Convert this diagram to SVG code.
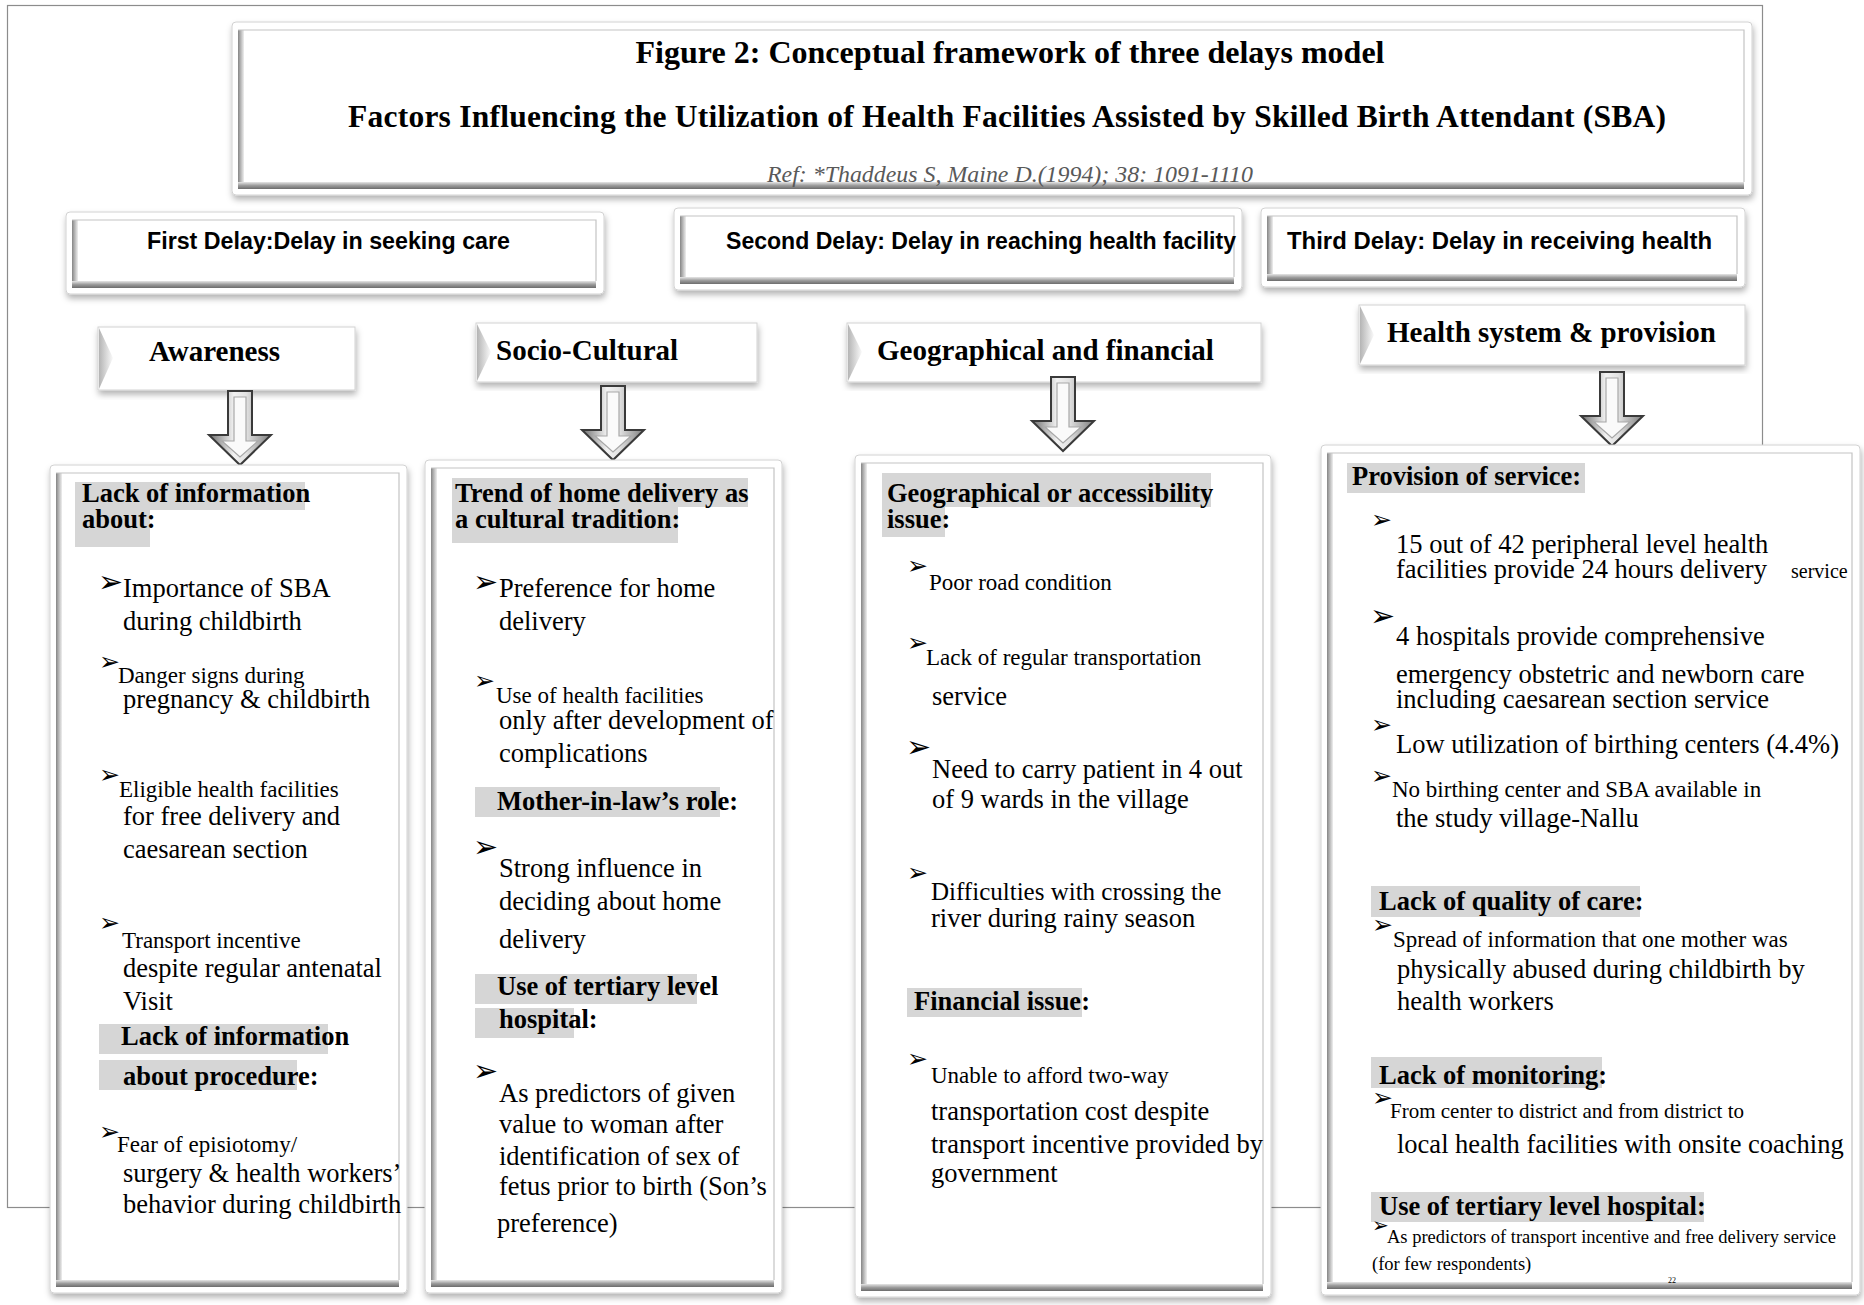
<svg xmlns="http://www.w3.org/2000/svg" xmlns:xlink="http://www.w3.org/1999/xlink" width="1864" height="1305" viewBox="0 0 1864 1305">
<defs>
<style>
.t{font-family:"Liberation Serif","Times New Roman",serif;font-size:26.5px;fill:#000}
.h{font-weight:bold}
.s{font-size:23px}
.bul{font-family:"DejaVu Sans",sans-serif;fill:#000}
.bb1{font-size:30px}
.bs1{font-size:25px}
.hl{fill:#d6d6d6}
.ob{fill:#fff;stroke:#d2d2d2;stroke-width:1;filter:url(#sh)}
.lb{fill:url(#gl)}
.lw{fill:url(#gw)}
.bb{fill:url(#gb)}
.il{fill:none;stroke:#c4c4c4;stroke-width:1.2}
.dl{font-family:"Liberation Sans",Arial,sans-serif;font-weight:bold;font-size:23px;fill:#000}
.cat{font-family:"Liberation Serif","Times New Roman",serif;font-weight:bold;font-size:29px;fill:#000}
</style>
<linearGradient id="gl" x1="0" y1="0" x2="1" y2="0"><stop offset="0" stop-color="#858585"/><stop offset="1" stop-color="#efefef"/></linearGradient>
<linearGradient id="gw" x1="0" y1="0" x2="1" y2="0"><stop offset="0" stop-color="#b4b4b4"/><stop offset="1" stop-color="#fafafa"/></linearGradient>
<linearGradient id="gb" x1="0" y1="0" x2="0" y2="1"><stop offset="0" stop-color="#e6e6e6"/><stop offset="0.5" stop-color="#9c9c9c"/><stop offset="1" stop-color="#6c6c6c"/></linearGradient>
<linearGradient id="ag" x1="0" y1="0" x2="1" y2="0"><stop offset="0" stop-color="#6e6e6e"/><stop offset="0.4" stop-color="#f2f2f2"/><stop offset="0.6" stop-color="#e2e2e2"/><stop offset="1" stop-color="#7e7e7e"/></linearGradient>
<filter id="sh" x="-5%" y="-5%" width="110%" height="120%"><feDropShadow dx="1" dy="4" stdDeviation="3" flood-color="#000" flood-opacity="0.3"/></filter>
<g id="darrow">
<path d="M-12,0 H12 V44 H31 L0,74 L-31,44 H-12 Z" fill="url(#ag)" stroke="#3a3a3a" stroke-width="2" stroke-linejoin="miter"/>
<path d="M-6,6 H6 V50 H18 L0,66 L-18,50 H-6 Z" fill="#fafafa" stroke="#a8a8a8" stroke-width="1.2"/>
</g>
</defs>

<rect x="7.5" y="5.5" width="1755" height="1202" fill="#fff" stroke="#8c8c8c" stroke-width="1.2"/>

<g id="title">
<rect class="ob" x="232" y="22" width="1520" height="173" rx="4"/>
<rect class="lb" x="238" y="30" width="6" height="153"/>
<rect class="bb" x="238" y="182" width="1506" height="7"/>
<path class="il" d="M238,30 H1744 V182"/>
<text class="t h" x="1010" y="63" style="font-size:32px" text-anchor="middle" textLength="749">Figure 2: Conceptual framework of three delays model</text>
<text class="t h" x="1007" y="127" style="font-size:31.5px" text-anchor="middle" textLength="1318">Factors Influencing the Utilization of Health Facilities Assisted by Skilled Birth Attendant (SBA)</text>
<text class="t" x="1010" y="182" style="font-size:24px;font-style:italic;fill:#595959" text-anchor="middle" textLength="486" lengthAdjust="spacingAndGlyphs">Ref: *Thaddeus S, Maine D.(1994); 38: 1091-1110</text>
</g>

<g id="delay1">
<rect class="ob" x="66" y="212" width="538" height="82" rx="4"/>
<rect class="lb" x="72" y="220" width="6" height="62"/>
<rect class="bb" x="72" y="281" width="524" height="7"/>
<path class="il" d="M72,220 H596 V281"/>
<text class="dl" x="147" y="249" textLength="363" lengthAdjust="spacingAndGlyphs">First Delay:Delay in seeking care</text>
</g>
<g id="delay2">
<rect class="ob" x="674" y="208" width="568" height="82" rx="4"/>
<rect class="lb" x="680" y="216" width="6" height="62"/>
<rect class="bb" x="680" y="277" width="554" height="7"/>
<path class="il" d="M680,216 H1234 V277"/>
<text class="dl" x="726" y="249" textLength="510" lengthAdjust="spacingAndGlyphs">Second Delay: Delay in reaching health facility</text>
</g>
<g id="delay3">
<rect class="ob" x="1261" y="208" width="484" height="79" rx="4"/>
<rect class="lb" x="1267" y="216" width="6" height="59"/>
<rect class="bb" x="1267" y="274" width="470" height="7"/>
<path class="il" d="M1267,216 H1737 V274"/>
<text class="dl" x="1287" y="249" textLength="425" lengthAdjust="spacingAndGlyphs">Third Delay: Delay in receiving health</text>
</g>

<g id="cat-awareness">
<rect class="ob" x="98" y="327" width="257" height="63"/>
<polygon class="lw" points="99,328 113,358 99,389"/>
<text class="cat" x="149" y="361">Awareness</text>
</g>
<g id="cat-socio">
<rect class="ob" x="476" y="323" width="281" height="59"/>
<polygon class="lw" points="477,324 491,352 477,381"/>
<text class="cat" x="496" y="360">Socio-Cultural</text>
</g>
<g id="cat-geo">
<rect class="ob" x="847" y="323" width="414" height="59"/>
<polygon class="lw" points="848,324 862,352 848,381"/>
<text class="cat" x="877" y="360">Geographical and financial</text>
</g>
<g id="cat-health">
<rect class="ob" x="1359" y="305" width="386" height="60"/>
<polygon class="lw" points="1360,306 1374,335 1360,364"/>
<text class="cat" x="1387" y="342">Health system &amp; provision</text>
</g>

<g id="connectors">
<use xlink:href="#darrow" href="#darrow" transform="translate(240,391)"/>
<use xlink:href="#darrow" href="#darrow" transform="translate(613,386)"/>
<use xlink:href="#darrow" href="#darrow" transform="translate(1063,377)"/>
<use xlink:href="#darrow" href="#darrow" transform="translate(1612,372)"/>
</g>

<g id="box-awareness">
<rect class="ob" x="50" y="465" width="357" height="828" rx="4"/>
<rect class="lb" x="56" y="473" width="6" height="808"/>
<rect class="bb" x="56" y="1280" width="343" height="7"/>
<path class="il" d="M56,473 H399 V1280"/>
<rect class="hl" x="75" y="482" width="230" height="28"/>
<rect class="hl" x="75" y="510" width="75" height="37"/>
<text class="t h" x="82" y="502">Lack of information</text>
<text class="t h" x="82" y="528">about:</text>
<text class="bul bb1" x="98" y="592">➢</text>
<text class="t" x="123" y="597">Importance of SBA</text>
<text class="t" x="123" y="630">during childbirth</text>
<text class="bul bs1" x="99" y="670">➢</text>
<text class="t s" x="118" y="683">Danger signs during</text>
<text class="t" x="123" y="708">pregnancy &amp; childbirth</text>
<text class="bul bs1" x="99" y="783">➢</text>
<text class="t s" x="119" y="797">Eligible health facilities</text>
<text class="t" x="123" y="825">for free delivery and</text>
<text class="t" x="123" y="858">caesarean section</text>
<text class="bul bs1" x="99" y="931">➢</text>
<text class="t s" x="122" y="948">Transport incentive</text>
<text class="t" x="123" y="977">despite regular antenatal</text>
<text class="t" x="123" y="1010">Visit</text>
<rect class="hl" x="99" y="1024" width="229" height="30"/>
<text class="t h" x="121" y="1045">Lack of information</text>
<rect class="hl" x="99" y="1060" width="198" height="30"/>
<text class="t h" x="123" y="1085">about procedure:</text>
<text class="bul bs1" x="99" y="1140">➢</text>
<text class="t s" x="117" y="1152">Fear of episiotomy/</text>
<text class="t" x="123" y="1182">surgery &amp; health workers’</text>
<text class="t" x="123" y="1213">behavior during childbirth</text>
</g>

<g id="box-socio">
<rect class="ob" x="425" y="460" width="357" height="833" rx="4"/>
<rect class="lb" x="431" y="468" width="6" height="813"/>
<rect class="bb" x="431" y="1280" width="343" height="7"/>
<path class="il" d="M431,468 H774 V1280"/>
<rect class="hl" x="452" y="478" width="296" height="29"/>
<rect class="hl" x="452" y="507" width="226" height="36"/>
<text class="t h" x="455" y="502">Trend of home delivery as</text>
<text class="t h" x="455" y="528">a cultural tradition:</text>
<text class="bul bb1" x="473" y="592">➢</text>
<text class="t" x="499" y="597">Preference for home</text>
<text class="t" x="499" y="630">delivery</text>
<text class="bul bs1" x="474" y="689">➢</text>
<text class="t s" x="496" y="703">Use of health facilities</text>
<text class="t" x="499" y="729">only after development of</text>
<text class="t" x="499" y="762">complications</text>
<rect class="hl" x="475" y="787" width="245" height="30"/>
<text class="t h" x="497" y="810">Mother-in-law’s role:</text>
<text class="bul bb1" x="473" y="857">➢</text>
<text class="t" x="499" y="877">Strong influence in</text>
<text class="t" x="499" y="910">deciding about home</text>
<text class="t" x="499" y="948">delivery</text>
<rect class="hl" x="475" y="974" width="222" height="30"/>
<text class="t h" x="497" y="995">Use of tertiary level</text>
<rect class="hl" x="475" y="1008" width="99" height="30"/>
<text class="t h" x="499" y="1028">hospital:</text>
<text class="bul bb1" x="473" y="1081">➢</text>
<text class="t" x="499" y="1102">As predictors of given</text>
<text class="t" x="499" y="1133">value to woman after</text>
<text class="t" x="499" y="1165">identification of sex of</text>
<text class="t" x="499" y="1195">fetus prior to birth (Son’s</text>
<text class="t" x="497" y="1232">preference)</text>
</g>

<g id="box-geo">
<rect class="ob" x="855" y="455" width="416" height="842" rx="4"/>
<rect class="lb" x="861" y="463" width="6" height="822"/>
<rect class="bb" x="861" y="1284" width="402" height="7"/>
<path class="il" d="M861,463 H1263 V1284"/>
<rect class="hl" x="882" y="473" width="329" height="34"/>
<rect class="hl" x="882" y="507" width="63" height="30"/>
<text class="t h" x="887" y="502">Geographical or accessibility</text>
<text class="t h" x="887" y="528">issue:</text>
<text class="bul bs1" x="907" y="574">➢</text>
<text class="t s" x="929" y="590">Poor road condition</text>
<text class="bul bs1" x="907" y="651">➢</text>
<text class="t s" x="926" y="665">Lack of regular transportation</text>
<text class="t" x="932" y="705">service</text>
<text class="bul bb1" x="906" y="757">➢</text>
<text class="t" x="932" y="778">Need to carry patient in 4 out</text>
<text class="t" x="932" y="808">of 9 wards in the village</text>
<text class="bul bs1" x="907" y="881">➢</text>
<text class="t" x="931" y="900" style="font-size:25px">Difficulties with crossing the</text>
<text class="t" x="931" y="927">river during rainy season</text>
<rect class="hl" x="907" y="988" width="175" height="29"/>
<text class="t h" x="914" y="1010">Financial issue:</text>
<text class="bul bs1" x="907" y="1067">➢</text>
<text class="t s" x="931" y="1083">Unable to afford two-way</text>
<text class="t" x="931" y="1120">transportation cost despite</text>
<text class="t" x="931" y="1153">transport incentive provided by</text>
<text class="t" x="931" y="1182">government</text>
</g>

<g id="box-health">
<rect class="ob" x="1321" y="445" width="539" height="850" rx="4"/>
<rect class="lb" x="1327" y="453" width="6" height="830"/>
<rect class="bb" x="1327" y="1282" width="525" height="7"/>
<path class="il" d="M1327,453 H1852 V1282"/>
<rect class="hl" x="1347" y="463" width="238" height="30"/>
<text class="t h" x="1352" y="485">Provision of service:</text>
<text class="bul bs1" x="1371" y="528">➢</text>
<text class="t" x="1396" y="553">15 out of 42 peripheral level health</text>
<text class="t" x="1396" y="578">facilities provide 24 hours delivery</text>
<text class="t" x="1791" y="578" style="font-size:20px">service</text>
<text class="bul bb1" x="1370" y="626">➢</text>
<text class="t" x="1396" y="645">4 hospitals provide comprehensive</text>
<text class="t" x="1396" y="683">emergency obstetric and newborn care</text>
<text class="t" x="1396" y="708">including caesarean section service</text>
<text class="bul bs1" x="1371" y="733">➢</text>
<text class="t" x="1396" y="753">Low utilization of birthing centers (4.4%)</text>
<text class="bul bs1" x="1371" y="784">➢</text>
<text class="t s" x="1392" y="797">No birthing center and SBA available in</text>
<text class="t" x="1396" y="827">the study village-Nallu</text>
<rect class="hl" x="1371" y="886" width="269" height="31"/>
<text class="t h" x="1379" y="910">Lack of quality of care:</text>
<text class="bul bs1" x="1372" y="933">➢</text>
<text class="t s" x="1393" y="947">Spread of information that one mother was</text>
<text class="t" x="1397" y="978">physically abused during childbirth by</text>
<text class="t" x="1397" y="1010">health workers</text>
<rect class="hl" x="1371" y="1057" width="231" height="31"/>
<text class="t h" x="1379" y="1084">Lack of monitoring:</text>
<text class="bul bs1" x="1372" y="1106">➢</text>
<text class="t" x="1390" y="1118" style="font-size:21px">From center to district and from district to</text>
<text class="t" x="1397" y="1153">local health facilities with onsite coaching</text>
<rect class="hl" x="1371" y="1192" width="333" height="30"/>
<text class="t h" x="1379" y="1215">Use of tertiary level hospital:</text>
<text class="bul" x="1372" y="1232" style="font-size:20px">➢</text>
<text class="t" x="1387" y="1243" style="font-size:18.5px">As predictors of transport incentive and free delivery service</text>
<text class="t" x="1372" y="1270" style="font-size:18.5px">(for few respondents)</text>
<text class="t" x="1668" y="1283" style="font-size:8px">22</text>
</g>
</svg>
